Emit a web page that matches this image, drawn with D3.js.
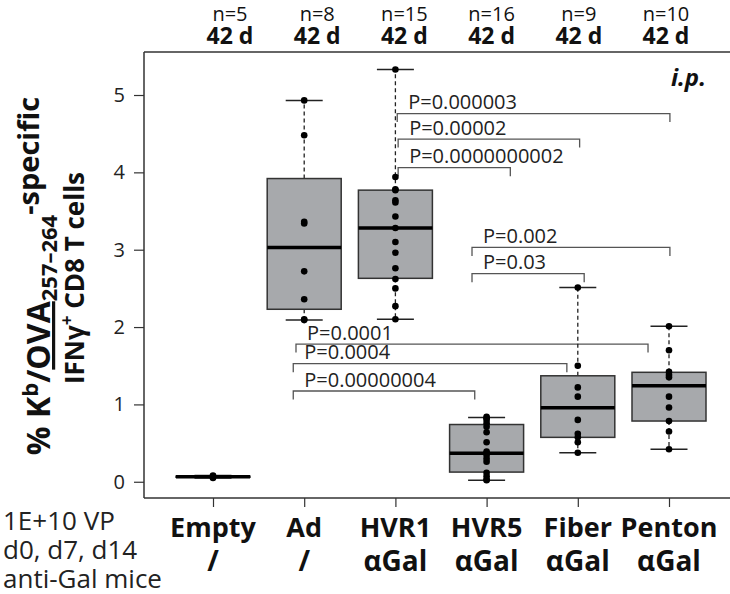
<!DOCTYPE html>
<html><head><meta charset="utf-8">
<script src="https://cdn.jsdelivr.net/npm/d3@7"></script>
<style>
html,body{margin:0;padding:0;background:#fff;}
text{font-family:"Open Sans",sans-serif;}
</style></head>
<body>
<svg id="chart" width="730" height="594"></svg>
<script>
// ---------- data ----------
const categories = ["Empty","Ad","HVR1","HVR5","Fiber","Penton"];
const catLine2   = ["/","/","αGal","αGal","αGal","αGal"];
const nLabels    = ["n=5","n=8","n=15","n=16","n=9","n=10"];
const dayLabels  = ["42 d","42 d","42 d","42 d","42 d","42 d"];
const yTicks     = [0,1,2,3,4,5];

const pointsEmpty  = [0.05,0.06,0.065,0.07,0.08];
const pointsAd     = [2.09,2.10,2.36,2.72,3.34,3.36,4.48,4.93];
const pointsHVR1   = [2.10,2.27,2.50,2.62,2.76,2.96,3.10,3.28,3.43,3.61,3.64,3.77,3.78,3.94,5.33];
const pointsHVR5   = [0.02,0.03,0.07,0.115,0.26,0.30,0.345,0.37,0.39,0.51,0.64,0.71,0.755,0.80,0.82,0.84];
const pointsFiber  = [0.375,0.51,0.575,0.62,0.80,1.10,1.22,1.50,2.51];
const pointsPenton = [0.42,0.65,0.785,0.96,1.10,1.35,1.38,1.42,1.70,2.01];

// box statistics
const whiskerLow  = [0.05, 2.09, 2.10, 0.02, 0.375, 0.42];
const boxQ1       = [0.058,2.23, 2.63, 0.125,0.574, 0.785];
const boxMedian   = [0.065,3.03, 3.28, 0.37, 0.957, 1.24];
const boxQ3       = [0.072,3.92, 3.77, 0.74, 1.37,  1.415];
const whiskerHigh = [0.08, 4.93, 5.33, 0.83, 2.51,  2.01];

// significance brackets: from / to in category index units, height in y units
const bracketLabels = ["P=0.000003","P=0.00002","P=0.0000000002","P=0.002","P=0.03","P=0.0001","P=0.0004","P=0.00000004"];
const bracketFrom   = [2.02, 2.03, 2.03, 2.84, 2.84, 0.91, 0.88, 0.88];
const bracketTo     = [5.01, 4.02, 3.26, 5.01, 4.07, 4.77, 3.88, 2.87];
const bracketY      = [4.76, 4.43, 4.06, 3.03, 2.69, 1.78, 1.526,1.173];

const sideLines = ["1E+10 VP","d0, d7, d14","anti-Gal mice"];

// ---------- drawing ----------
(function(){
const svg = d3.select("#chart");
svg.append("rect").attr("width",730).attr("height",594).attr("fill","#fff");

const x = d3.scaleLinear().domain([0,5]).range([213,669]);
const y = d3.scaleLinear().domain([-0.21,5.556]).range([498,52]);
const xTop = d3.scaleLinear().domain([0,5]).range([230,666]);
const pLeft = 144, pTop = 52, pBottom = 498, pRight = 740;
const boxW = 74, capW = 37;
const stroke = "#333";

svg.append("line").attr("x1",pLeft).attr("x2",pRight).attr("y1",pTop).attr("y2",pTop).attr("stroke",stroke).attr("stroke-width",1.5);
svg.append("line").attr("x1",pLeft).attr("x2",pRight).attr("y1",pBottom).attr("y2",pBottom).attr("stroke",stroke).attr("stroke-width",1.5);

const yAxis = d3.axisLeft(y).tickValues(yTicks).tickSize(10).tickPadding(9).tickFormat(d3.format("d"));
const gy = svg.append("g").attr("transform",`translate(${pLeft},0)`).call(yAxis);
gy.select(".domain").attr("d",`M0,${pTop}V${pBottom}`).attr("stroke",stroke).attr("stroke-width",1.5);
gy.selectAll(".tick line").attr("stroke",stroke).attr("stroke-width",1.2);
gy.selectAll(".tick text").attr("font-family","Open Sans").attr("font-size",20).attr("fill","#222");

const xAxis = d3.axisBottom(x).tickValues(d3.range(categories.length)).tickSize(9).tickFormat("");
const gx = svg.append("g").attr("transform",`translate(0,${pBottom})`).call(xAxis);
gx.select(".domain").remove();
gx.selectAll(".tick line").attr("stroke",stroke).attr("stroke-width",1.2);

const catG = svg.append("g");
categories.forEach((c,i)=>{
  catG.append("text").attr("x",x(i)).attr("y",537).attr("text-anchor","middle")
    .attr("font-size",27).attr("font-weight","bold").attr("fill","#111").text(c);
  catG.append("text").attr("x",x(i)).attr("y",571).attr("text-anchor","middle")
    .attr("font-size",28).attr("font-weight","bold").attr("fill","#111").text(catLine2[i]);
});

nLabels.forEach((t,i)=>{
  svg.append("text").attr("x",xTop(i)).attr("y",21).attr("text-anchor","middle")
    .attr("font-size",20).attr("fill","#111").text(t);
  svg.append("text").attr("x",xTop(i)).attr("y",44).attr("text-anchor","middle")
    .attr("font-size",23).attr("font-weight","bold").attr("fill","#111").text(dayLabels[i]);
});

sideLines.forEach((t,i)=>{
  svg.append("text").attr("x",3).attr("y",530+i*29).attr("font-size",26).attr("fill","#222").text(t);
});

svg.append("text").attr("x",706).attr("y",86).attr("text-anchor","end")
  .attr("font-size",24).attr("font-weight","bold").attr("font-style","italic").attr("fill","#111").text("i.p.");

const yl = svg.append("g").attr("transform","translate(50,276) rotate(-90)");
const t1 = yl.append("text").attr("x",0).attr("y",0).attr("text-anchor","middle")
  .attr("font-weight","bold").attr("font-size",32).attr("fill","#111");
t1.append("tspan").text("% K");
t1.append("tspan").attr("font-size",22).attr("dy",-12).text("b");
t1.append("tspan").attr("dy",12).text("/");
t1.append("tspan").attr("text-decoration","underline").text("OVA");
t1.append("tspan").attr("font-size",22).attr("dy",7).text("257–264");
t1.append("tspan").attr("font-size",29).attr("dy",-18).text("-specific");
const t2 = svg.append("g").attr("transform","translate(84,278) rotate(-90)")
  .append("text").attr("text-anchor","middle").attr("font-weight","bold").attr("font-size",26).attr("fill","#111");
t2.append("tspan").text("IFNγ");
t2.append("tspan").attr("font-size",17).attr("dy",-11).text("+");
t2.append("tspan").attr("dy",11).text(" CD8 T cells");

const bg = svg.append("g");
bracketLabels.forEach((lab,i)=>{
  const x1 = x(bracketFrom[i]), x2 = x(bracketTo[i]), yy = y(bracketY[i]);
  bg.append("path").attr("d",`M${x1},${yy+8.5}V${yy}H${x2}V${yy+8.5}`)
    .attr("fill","none").attr("stroke","#555").attr("stroke-width",1.3);
  bg.append("text").attr("x",x1+11).attr("y",yy-4.5).attr("font-size",20).attr("fill","#222").text(lab);
});

const allPoints = [pointsEmpty,pointsAd,pointsHVR1,pointsHVR5,pointsFiber,pointsPenton];
const bx = svg.append("g");
categories.forEach((c,i)=>{
  const cx = x(i);
  bx.append("line").attr("x1",cx).attr("x2",cx).attr("y1",y(boxQ3[i])).attr("y2",y(whiskerHigh[i]))
    .attr("stroke","#222").attr("stroke-width",1.3).attr("stroke-dasharray","4,3");
  bx.append("line").attr("x1",cx).attr("x2",cx).attr("y1",y(boxQ1[i])).attr("y2",y(whiskerLow[i]))
    .attr("stroke","#222").attr("stroke-width",1.3).attr("stroke-dasharray","4,3");
  [whiskerHigh[i],whiskerLow[i]].forEach(v=>{
    bx.append("line").attr("x1",cx-capW/2).attr("x2",cx+capW/2).attr("y1",y(v)).attr("y2",y(v))
      .attr("stroke","#222").attr("stroke-width",1.5);
  });
  bx.append("rect").attr("x",cx-boxW/2).attr("width",boxW)
    .attr("y",y(boxQ3[i])).attr("height",Math.max(0.1,y(boxQ1[i])-y(boxQ3[i])))
    .attr("fill","#a7a9ac").attr("stroke","#333").attr("stroke-width",1.5);
  bx.append("line").attr("x1",cx-boxW/2).attr("x2",cx+boxW/2).attr("y1",y(boxMedian[i])).attr("y2",y(boxMedian[i]))
    .attr("stroke","#000").attr("stroke-width",3.5);
  allPoints[i].forEach(v=>{
    bx.append("circle").attr("cx",cx).attr("cy",y(v)).attr("r",3.3).attr("fill","#000");
  });
});
})();
</script>
</body></html>
